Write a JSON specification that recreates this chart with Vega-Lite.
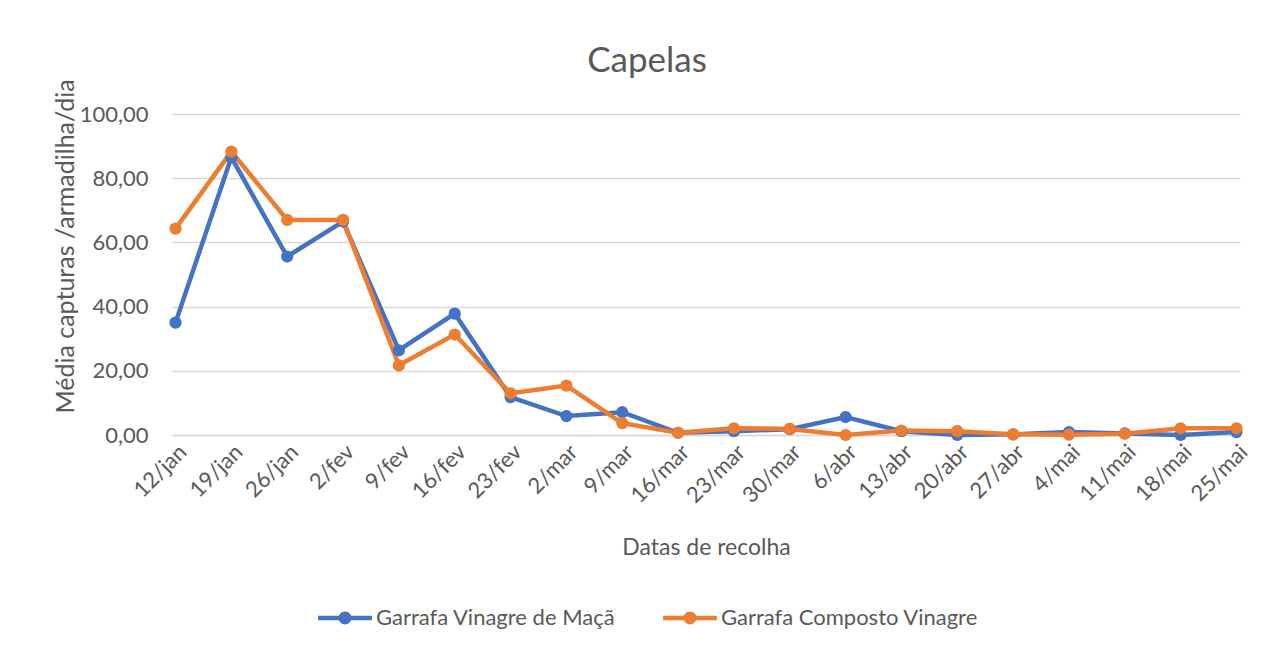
{
  "$schema": "https://vega.github.io/schema/vega-lite/v6.json",
  "autosize": {"type": "none"},
  "padding": {"left": 172, "top": 114, "right": 34, "bottom": 216},
  "width": 1068,
  "height": 321,
  "background": "white",
  "config": {
    "font": "Lato",
    "view": {"stroke": null},
    "axis": {"labelColor": "#595959", "titleColor": "#595959", "labelFont": "Lato", "titleFont": "Lato", "titleFontWeight": "normal"},
    "legend": {"labelColor": "#595959", "labelFont": "Lato"}
  },
  "title": {"text": "Capelas", "fontSize": 35, "font": "Lato", "fontWeight": "normal", "color": "#595959", "anchor": "middle", "frame": "group", "dx": -59, "offset": 0},
  "data": {"values": [
    {"data": "12/jan", "serie": "Garrafa Vinagre de Maçã", "valor": 35.0},
    {"data": "19/jan", "serie": "Garrafa Vinagre de Maçã", "valor": 86.5},
    {"data": "26/jan", "serie": "Garrafa Vinagre de Maçã", "valor": 55.6},
    {"data": "2/fev", "serie": "Garrafa Vinagre de Maçã", "valor": 66.5},
    {"data": "9/fev", "serie": "Garrafa Vinagre de Maçã", "valor": 26.4},
    {"data": "16/fev", "serie": "Garrafa Vinagre de Maçã", "valor": 37.8},
    {"data": "23/fev", "serie": "Garrafa Vinagre de Maçã", "valor": 11.8},
    {"data": "2/mar", "serie": "Garrafa Vinagre de Maçã", "valor": 5.9},
    {"data": "9/mar", "serie": "Garrafa Vinagre de Maçã", "valor": 7.1},
    {"data": "16/mar", "serie": "Garrafa Vinagre de Maçã", "valor": 0.7},
    {"data": "23/mar", "serie": "Garrafa Vinagre de Maçã", "valor": 1.2},
    {"data": "30/mar", "serie": "Garrafa Vinagre de Maçã", "valor": 1.8},
    {"data": "6/abr", "serie": "Garrafa Vinagre de Maçã", "valor": 5.6},
    {"data": "13/abr", "serie": "Garrafa Vinagre de Maçã", "valor": 1.2},
    {"data": "20/abr", "serie": "Garrafa Vinagre de Maçã", "valor": 0.0},
    {"data": "27/abr", "serie": "Garrafa Vinagre de Maçã", "valor": 0.2},
    {"data": "4/mai", "serie": "Garrafa Vinagre de Maçã", "valor": 0.9},
    {"data": "11/mai", "serie": "Garrafa Vinagre de Maçã", "valor": 0.5},
    {"data": "18/mai", "serie": "Garrafa Vinagre de Maçã", "valor": 0.0},
    {"data": "25/mai", "serie": "Garrafa Vinagre de Maçã", "valor": 0.9},
    {"data": "12/jan", "serie": "Garrafa Composto Vinagre", "valor": 64.3},
    {"data": "19/jan", "serie": "Garrafa Composto Vinagre", "valor": 88.3},
    {"data": "26/jan", "serie": "Garrafa Composto Vinagre", "valor": 67.0},
    {"data": "2/fev", "serie": "Garrafa Composto Vinagre", "valor": 67.0},
    {"data": "9/fev", "serie": "Garrafa Composto Vinagre", "valor": 21.7},
    {"data": "16/fev", "serie": "Garrafa Composto Vinagre", "valor": 31.3},
    {"data": "23/fev", "serie": "Garrafa Composto Vinagre", "valor": 13.0},
    {"data": "2/mar", "serie": "Garrafa Composto Vinagre", "valor": 15.4},
    {"data": "9/mar", "serie": "Garrafa Composto Vinagre", "valor": 3.7},
    {"data": "16/mar", "serie": "Garrafa Composto Vinagre", "valor": 0.7},
    {"data": "23/mar", "serie": "Garrafa Composto Vinagre", "valor": 2.1},
    {"data": "30/mar", "serie": "Garrafa Composto Vinagre", "valor": 1.9},
    {"data": "6/abr", "serie": "Garrafa Composto Vinagre", "valor": 0.0},
    {"data": "13/abr", "serie": "Garrafa Composto Vinagre", "valor": 1.4},
    {"data": "20/abr", "serie": "Garrafa Composto Vinagre", "valor": 1.2},
    {"data": "27/abr", "serie": "Garrafa Composto Vinagre", "valor": 0.2},
    {"data": "4/mai", "serie": "Garrafa Composto Vinagre", "valor": 0.1},
    {"data": "11/mai", "serie": "Garrafa Composto Vinagre", "valor": 0.4},
    {"data": "18/mai", "serie": "Garrafa Composto Vinagre", "valor": 2.1},
    {"data": "25/mai", "serie": "Garrafa Composto Vinagre", "valor": 2.1}
  ]},
  "encoding": {
    "x": {
      "field": "data", "type": "ordinal",
      "sort": ["12/jan","19/jan","26/jan","2/fev","9/fev","16/fev","23/fev","2/mar","9/mar","16/mar","23/mar","30/mar","6/abr","13/abr","20/abr","27/abr","4/mai","11/mai","18/mai","25/mai"],
      "scale": {"type": "point", "padding": 0.063},
      "axis": {"title": "Datas de recolha", "titleFontSize": 23, "labelFontSize": 22, "labelAngle": -45, "ticks": false, "grid": false, "domainColor": "#D9D9D9", "domainWidth": 1.3, "labelPadding": 6, "titlePadding": 30}
    },
    "y": {
      "field": "valor", "type": "quantitative",
      "scale": {"domain": [0, 100], "nice": false},
      "axis": {"title": "Média capturas /armadilha/dia", "titleFontSize": 25, "labelFontSize": 22, "values": [0,20,40,60,80,100], "labelExpr": "replace(format(datum.value, '.2f'), '.', ',')", "ticks": false, "domain": false, "gridColor": "#D9D9D9", "gridWidth": 1.3, "labelPadding": 24, "titlePadding": 1, "titleY": 132}
    },
    "color": {
      "field": "serie", "type": "nominal",
      "sort": ["Garrafa Vinagre de Maçã", "Garrafa Composto Vinagre"],
      "scale": {"domain": ["Garrafa Vinagre de Maçã", "Garrafa Composto Vinagre"], "range": ["#4472C4", "#ED7D31"]},
      "legend": {"title": null, "orient": "none", "direction": "horizontal", "legendX": 146, "legendY": 477, "labelFontSize": 22, "labelLimit": 500, "columnPadding": 47, "labelOffset": 4,
        "symbolType": "M-1,-0.08L1,-0.08L1,0.08L-1,0.08Z M-0.24,0A0.24,0.24,0,1,1,0.24,0A0.24,0.24,0,1,1,-0.24,0Z",
        "symbolSize": 2900, "symbolStrokeWidth": 0}
    }
  },
  "layer": [
    {"mark": {"type": "line", "strokeWidth": 4.5}},
    {"mark": {"type": "point", "filled": true, "size": 150, "opacity": 1}}
  ]
}
